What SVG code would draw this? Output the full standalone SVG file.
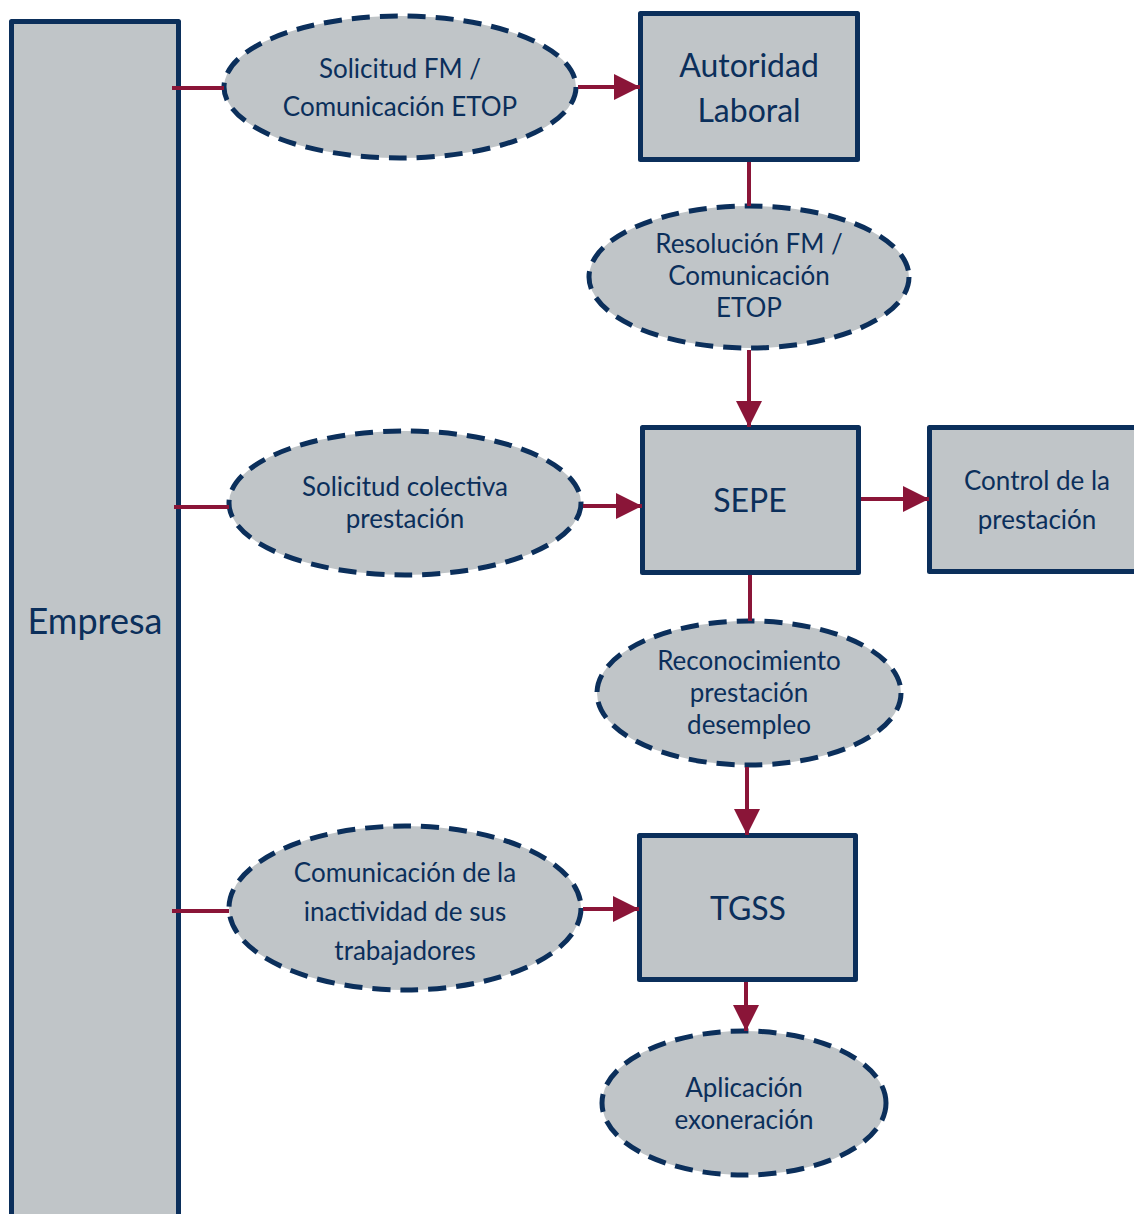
<svg xmlns="http://www.w3.org/2000/svg" width="1134" height="1214" viewBox="0 0 1134 1214">
<defs>
<style>
.box{fill:#C0C5C8;stroke:#0B2F5B;stroke-width:5;stroke-linejoin:round}
.ell{fill:#C0C5C8;stroke:#0B2F5B;stroke-width:5;stroke-dasharray:18 10}
.t{font-family:Lato,"Liberation Sans",sans-serif;fill:#0B2F5B;text-anchor:middle;font-size:26px}
.big{font-size:32px}
.con{stroke:#8A1538;stroke-width:4;fill:none}
</style>
<marker id="ah" viewBox="0 0 10 10" refX="10" refY="5" markerUnits="userSpaceOnUse" markerWidth="26" markerHeight="26" orient="auto">
<path d="M0,0 L10,5 L0,10 z" fill="#8A1538"/>
</marker>
</defs>
<g id="empresa">
<rect class="box" x="11.5" y="21.5" width="167" height="1210"/>
<text class="t" x="95" y="634" style="font-size:36px">Empresa</text>
</g>
<g id="solicitud-fm">
<ellipse class="ell" cx="400" cy="87" rx="176" ry="71"/>
<text class="t" x="400" y="78">Solicitud FM /</text>
<text class="t" x="400" y="116">Comunicación ETOP</text>
</g>
<g id="autoridad">
<rect class="box" x="640.5" y="13.5" width="217" height="146"/>
<text class="t big" x="749" y="77">Autoridad</text>
<text class="t big" x="749" y="122">Laboral</text>
</g>
<g id="resolucion">
<ellipse class="ell" cx="749" cy="277" rx="160" ry="71"/>
<text class="t" x="749" y="253">Resolución FM /</text>
<text class="t" x="749" y="285">Comunicación</text>
<text class="t" x="749" y="317">ETOP</text>
</g>
<g id="solicitud-colectiva">
<ellipse class="ell" cx="405" cy="503" rx="176" ry="72"/>
<text class="t" x="405" y="496">Solicitud colectiva</text>
<text class="t" x="405" y="528">prestación</text>
</g>
<g id="sepe">
<rect class="box" x="642.5" y="427.5" width="216" height="145"/>
<text class="t big" x="750" y="512">SEPE</text>
</g>
<g id="control">
<rect class="box" x="929.5" y="427.5" width="210" height="144"/>
<text class="t" x="1037" y="490">Control de la</text>
<text class="t" x="1037" y="529">prestación</text>
</g>
<g id="reconocimiento">
<ellipse class="ell" cx="749" cy="693" rx="152" ry="72"/>
<text class="t" x="749" y="670">Reconocimiento</text>
<text class="t" x="749" y="702">prestación</text>
<text class="t" x="749" y="734">desempleo</text>
</g>
<g id="comunicacion">
<ellipse class="ell" cx="405" cy="908" rx="176" ry="82"/>
<text class="t" x="405" y="882">Comunicación de la</text>
<text class="t" x="405" y="921">inactividad de sus</text>
<text class="t" x="405" y="960">trabajadores</text>
</g>
<g id="tgss">
<rect class="box" x="639.5" y="835.5" width="216" height="144"/>
<text class="t big" x="748" y="920">TGSS</text>
</g>
<g id="aplicacion">
<ellipse class="ell" cx="744" cy="1103" rx="142" ry="72"/>
<text class="t" x="744" y="1097">Aplicación</text>
<text class="t" x="744" y="1129">exoneración</text>
</g>
<g id="connectors">
<line class="con" x1="172" y1="88" x2="224" y2="88"/>
<line class="con" x1="578" y1="87" x2="640" y2="87" marker-end="url(#ah)"/>
<line class="con" x1="749" y1="162" x2="749" y2="206"/>
<line class="con" x1="749" y1="350" x2="749" y2="427" marker-end="url(#ah)"/>
<line class="con" x1="174" y1="507" x2="229" y2="507"/>
<line class="con" x1="583" y1="506" x2="642" y2="506" marker-end="url(#ah)"/>
<line class="con" x1="861" y1="499" x2="929" y2="499" marker-end="url(#ah)"/>
<line class="con" x1="750" y1="575" x2="750" y2="621"/>
<line class="con" x1="747" y1="767" x2="747" y2="835" marker-end="url(#ah)"/>
<line class="con" x1="172" y1="911" x2="229" y2="911"/>
<line class="con" x1="583" y1="909" x2="639" y2="909" marker-end="url(#ah)"/>
<line class="con" x1="746" y1="982" x2="746" y2="1031" marker-end="url(#ah)"/>
</g>
</svg>
